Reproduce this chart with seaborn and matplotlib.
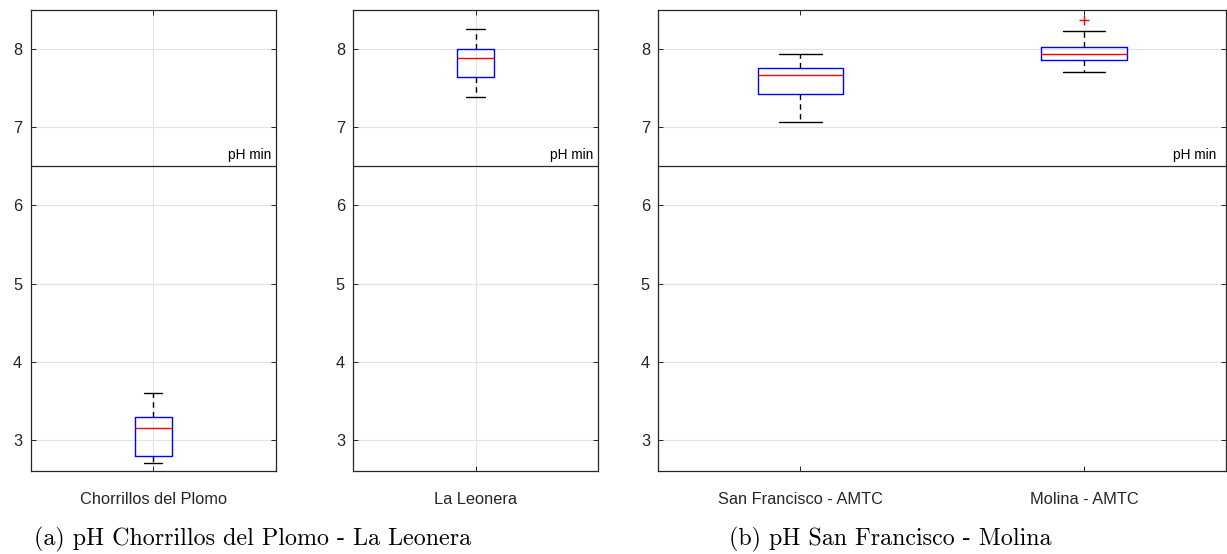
import numpy as np
import pandas as pd
import matplotlib
matplotlib.use("Agg")
import matplotlib.pyplot as plt
import seaborn as sns

# ---- data (five-number summaries: low whisker, Q1, median, Q3, high whisker)
sites_a1 = ["Chorrillos del Plomo"]
sites_a2 = ["La Leonera"]
sites_b = ["San Francisco - AMTC", "Molina - AMTC"]

chorrillos = [2.70, 2.80, 3.15, 3.30, 3.60]
leonera = [7.39, 7.64, 7.88, 8.00, 8.25]
san_francisco = [7.07, 7.42, 7.67, 7.76, 7.94]
molina = [7.70, 7.86, 7.94, 8.02, 8.23]
molina_outliers = [8.37]

PH_MIN = 6.5
yticks = [3, 4, 5, 6, 7, 8]
caption_a = "(a) pH Chorrillos del Plomo - La Leonera"
caption_b = "(b) pH San Francisco - Molina"

sns.set_theme(style="whitegrid")
plt.rcParams["font.family"] = ["Liberation Sans", "DejaVu Sans"]

W, H = 1227, 554
fig = plt.figure(figsize=(W / 100, H / 100), dpi=100)
fig.patch.set_facecolor("white")


def frac(x0, x1, y0, y1):
    return [x0 / W, 1 - y1 / H, (x1 - x0) / W, (y1 - y0) / H]


def make_df(names, values):
    rows = []
    for n, v in zip(names, values):
        for val in v:
            rows.append({"site": n, "pH": val})
    return pd.DataFrame(rows)


def panel(ax, names, values, width):
    df = make_df(names, values)
    sns.boxplot(data=df, x="site", y="pH", order=names, ax=ax, whis=(0, 100),
                width=width, fill=False, color="blue", showfliers=False,
                linewidth=1.0,
                boxprops=dict(color="blue", linewidth=1.0),
                medianprops=dict(color="red", linewidth=1.0),
                whiskerprops=dict(color="black", linestyle=(0, (4, 3)), linewidth=1.0),
                capprops=dict(color="black", linewidth=1.0))
    ax.set_ylim(2.6, 8.5)
    ax.set_xlim(-0.5, len(names) - 0.5)
    ax.set_yticks(yticks)
    ax.set_xlabel("")
    ax.set_ylabel("")
    ax.axhline(PH_MIN, color="#262626", linewidth=0.9, zorder=3)
    ax.text(0.982, PH_MIN + 0.05, "pH min", transform=ax.get_yaxis_transform(),
            ha="right", va="bottom", fontsize=9.8, color="black")
    ax.grid(True, color="#e3e3e3", linewidth=0.8)
    ax.set_axisbelow(True)
    for s in ax.spines.values():
        s.set_color("#262626")
        s.set_linewidth(0.9)
        s.set_visible(True)
    ax.tick_params(axis="both", direction="in", length=3.5, width=0.7, color="#262626",
                   labelcolor="#262626", top=True, right=True,
                   left=True, bottom=True)
    ax.tick_params(axis="x", pad=15, labelsize=11.8)
    ax.tick_params(axis="y", pad=6, labelsize=11.8)
    ax.set_facecolor("white")


ax1 = fig.add_axes(frac(30.5, 276, 9.7, 471.3))
panel(ax1, sites_a1, [chorrillos], 0.15)
ax2 = fig.add_axes(frac(353.3, 598, 9.7, 471.3))
panel(ax2, sites_a2, [leonera], 0.15)
ax3 = fig.add_axes(frac(658.3, 1226, 9.7, 471.3))
panel(ax3, sites_b, [san_francisco, molina], 0.30)

out_df = pd.DataFrame({"site": [sites_b[1]] * len(molina_outliers), "pH": molina_outliers})
sns.stripplot(data=out_df, x="site", y="pH", order=sites_b, ax=ax3, jitter=False,
              marker="+", color="red", size=7, linewidth=1.0)
ax3.set_xlabel("")
ax3.set_ylabel("")
ax3.set_xlim(-0.5, 1.5)

fig.text(253 / W, 1 - 539 / H, caption_a, ha="center", va="center",
         fontsize=17.3, family="cmr10", color="black")
fig.text(890 / W, 1 - 539 / H, caption_b, ha="center", va="center",
         fontsize=17.3, family="cmr10", color="black")

fig.savefig("out.png", dpi=100, facecolor="white")
